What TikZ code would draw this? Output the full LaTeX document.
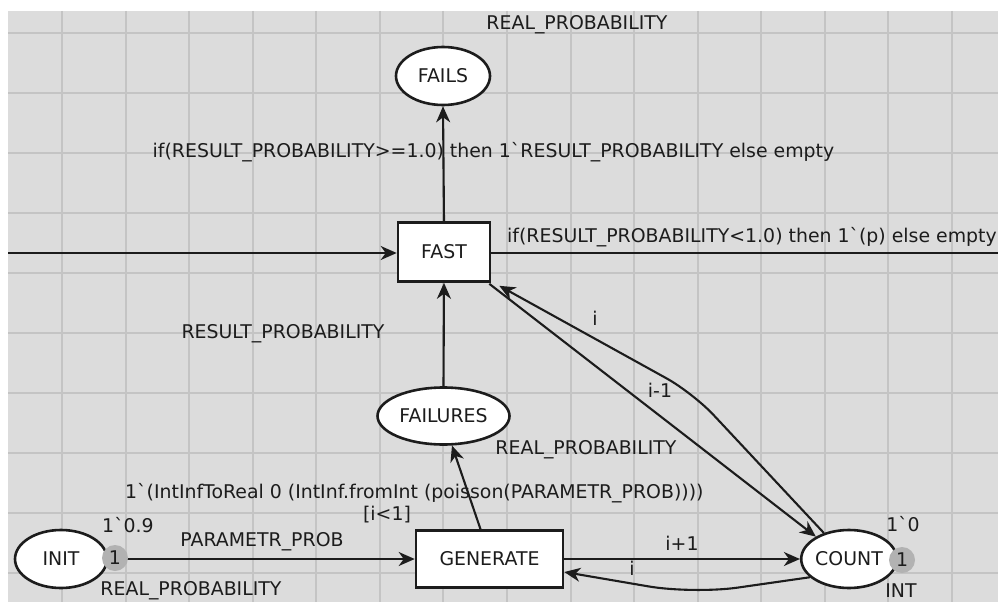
\documentclass[tikz,border=0pt]{standalone}
\usepackage{fontspec}
\setmainfont{DejaVu Sans}
\usetikzlibrary{arrows.meta,shapes.geometric,calc}
\definecolor{bg}{HTML}{DCDCDC}
\definecolor{gridc}{HTML}{C4C4C4}
\definecolor{ink}{HTML}{1C1C1C}
\definecolor{tok}{HTML}{B2B2B2}
\newcommand\cpnfont{\fontsize{18.9}{21}\selectfont}
\begin{document}
\begin{tikzpicture}[x=1pt,y=-1pt,
  place/.style={ellipse,draw=ink,line width=2.6pt,fill=white,inner sep=0pt,text=ink,font=\cpnfont},
  trans/.style={rectangle,draw=ink,line width=2.6pt,fill=white,inner sep=0pt,text=ink,font=\cpnfont},
  lbl/.style={text=ink,font=\cpnfont,inner sep=0pt},
  arcline/.style={draw=ink,line width=2.1pt},
  arc/.style={arcline,-{Stealth[length=16pt,width=14pt,inset=5pt]}},
  token/.style={circle,fill=tok,minimum size=26pt,inner sep=0pt,text=ink,font=\cpnfont}]
\useasboundingbox (0,0) rectangle (998,602);
\fill[white] (0,0) rectangle (998,602);
\fill[bg] (8,11) rectangle (998,602);
\foreach \i in {0,...,14} \draw[gridc,line width=2pt] ({62+63.57*\i},11) -- ({62+63.57*\i},602);
\foreach \j in {0,...,9} \draw[gridc,line width=2pt] (8,{33+60*\j}) -- (998,{33+60*\j});

% nodes
\node[place,minimum width=94pt,minimum height=58pt] (FAILS) at (443,76) {FAILS};
\node[trans,minimum width=92pt,minimum height=59pt] (FAST) at (444,252) {FAST};
\node[place,minimum width=132pt,minimum height=57pt] (FAILURES) at (443.5,416) {FAILURES};
\node[place,minimum width=92pt,minimum height=58pt] (INIT) at (61,559) {INIT};
\node[trans,minimum width=147pt,minimum height=57pt] (GENERATE) at (489.5,559) {GENERATE};
\node[place,minimum width=88pt,minimum height=58pt] (COUNT) at (849,559) {COUNT};

% arcs
\coordinate (lin) at (8,253);
\coordinate (rout) at (998,253);
\coordinate (cb) at (693,594);
\coordinate (ib) at (693,393);
\draw[arc] (lin) -- (lin -| FAST.west);
\draw[arcline] (rout -| FAST.east) -- (rout);
\draw[arc] (FAST.north) -- (FAILS.south);
\draw[arc] (FAILURES.north) -- (FAST.south);
\draw[arc] (INIT.east) -- (GENERATE.west);
\draw[arc] ($(GENERATE.north)+(-9,0)$) -- (FAILURES.-74);
\draw[arc] (GENERATE.east) -- (COUNT.west);
\draw[arc,rounded corners=45pt] (COUNT.205) -- (cb) -- ($(GENERATE.east)+(0,13)$);
\draw[arc,rounded corners=30pt] (COUNT.134) -- (ib) -- ($(FAST.south east)+(8,3)$);
\draw[arc] ($(FAST.south east)+(-2,1)$) -- (COUNT.146);

% tokens
\node[token] (tinit) at (115,558) {1};
\node[token] (tcount) at (902,560) {1};

% labels
\node[lbl] (l1) at (577,25) {REAL\_PROBABILITY};
\node[lbl] (l2) at (493.5,152) {if(RESULT\_PROBABILITY>=1.0) then 1\textasciigrave RESULT\_PROBABILITY else empty};
\node[lbl,anchor=west] (l3) at (507,237) {if(RESULT\_PROBABILITY<1.0) then 1\textasciigrave(p) else empty};
\node[lbl] (l4) at (283,334) {RESULT\_PROBABILITY};
\node[lbl] (l5) at (586,450) {REAL\_PROBABILITY};
\node[lbl,anchor=west] (l6) at (125,493) {1\textasciigrave(IntInfToReal 0 (IntInf.fromInt (poisson(PARAMETR\_PROB))))};
\node[lbl] (l7) at (387,515) {[i<1]};
\node[lbl] (l8) at (128,525) {1\textasciigrave 0.9};
\node[lbl] (l9) at (262,542) {PARAMETR\_PROB};
\node[lbl] (l10) at (191,591) {REAL\_PROBABILITY};
\node[lbl] (l11) at (682,543) {i+1};
\node[lbl] (l12) at (632,568) {i};
\node[lbl] (l13) at (595,318) {i};
\node[lbl] (l14) at (660,390) {i-1};
\node[lbl] (l15) at (903,524) {1\textasciigrave 0};
\node[lbl] (l16) at (901,591) {INT};
\end{tikzpicture}
\end{document}
